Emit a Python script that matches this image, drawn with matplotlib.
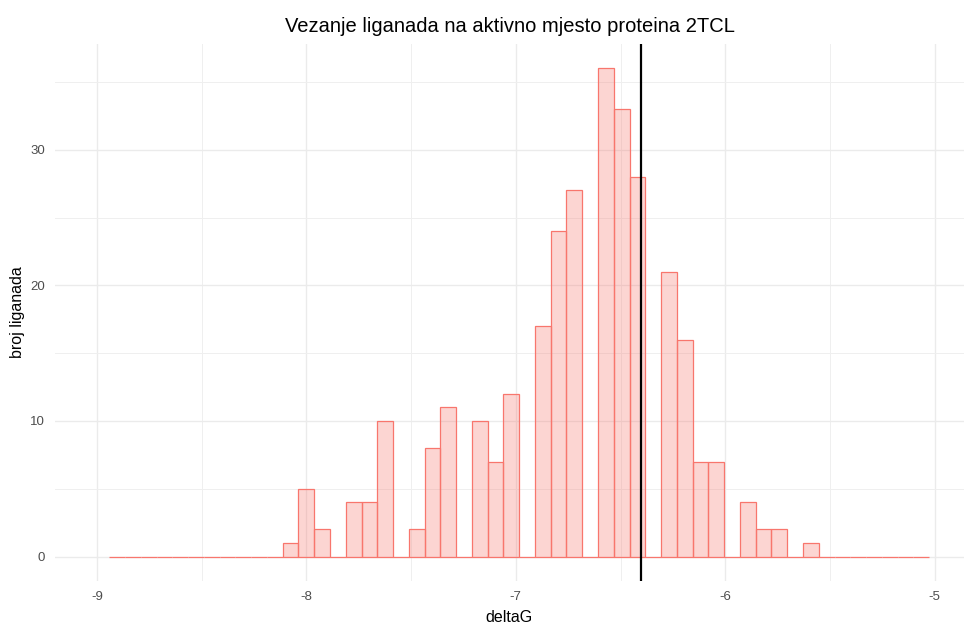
import matplotlib
matplotlib.use("Agg")
import matplotlib.pyplot as plt
import numpy as np

# Data
bin_start = -8.941
bin_width = 0.07528
counts = [0]*11 + [1, 5, 2, 0, 4, 4, 10, 0, 2, 8, 11, 0, 10, 7, 12, 0, 17, 24, 27, 0,
                   36, 33, 28, 0, 21, 16, 7, 7, 0, 4, 2, 2, 0, 1] + [0]*7
vline_x = -6.403
x_ticks = [-9, -8, -7, -6, -5]
y_ticks = [0, 10, 20, 30]

title = "Vezanje liganada na aktivno mjesto proteina 2TCL"
xlabel = "deltaG"
ylabel = "broj liganada"

plt.rcParams['font.family'] = ['Liberation Sans', 'DejaVu Sans']
plt.rcParams['axes.unicode_minus'] = False

fig = plt.figure(figsize=(9.64, 6.24), dpi=100)
ax = fig.add_axes([55/964, 43/624, 1 - 55/964, 537/624])

lefts = bin_start + bin_width*np.arange(len(counts))
ax.bar(lefts, counts, width=bin_width, align='edge', color='#F8766D', alpha=0.3,
       linewidth=0, zorder=2)
ax.bar(lefts, counts, width=bin_width, align='edge', facecolor='none',
       edgecolor='#F8766D', linewidth=0.9, zorder=3)
ax.axvline(vline_x, color='black', linewidth=1.6, zorder=4)

ax.set_xlim(-9.2, -4.86)
ax.set_ylim(-1.8, 37.8)
ax.set_xticks(x_ticks)
ax.set_yticks(y_ticks)
ax.set_xticks([-8.5, -7.5, -6.5, -5.5], minor=True)
ax.set_yticks([5, 15, 25, 35], minor=True)

ax.grid(which='major', color='#EBEBEB', linewidth=1.0, zorder=0)
ax.grid(which='minor', color='#EFEFEF', linewidth=0.7, zorder=0)
ax.set_axisbelow(True)
for s in ax.spines.values():
    s.set_visible(False)
ax.tick_params(which='both', length=0, labelsize=9.5, labelcolor='#4D4D4D', pad=7)

ax.set_title(title, fontsize=14.5, pad=9)
ax.set_xlabel(xlabel, fontsize=11.5, labelpad=5)
ax.set_ylabel(ylabel, fontsize=11.5, labelpad=4)

fig.savefig("out.png", dpi=100)
